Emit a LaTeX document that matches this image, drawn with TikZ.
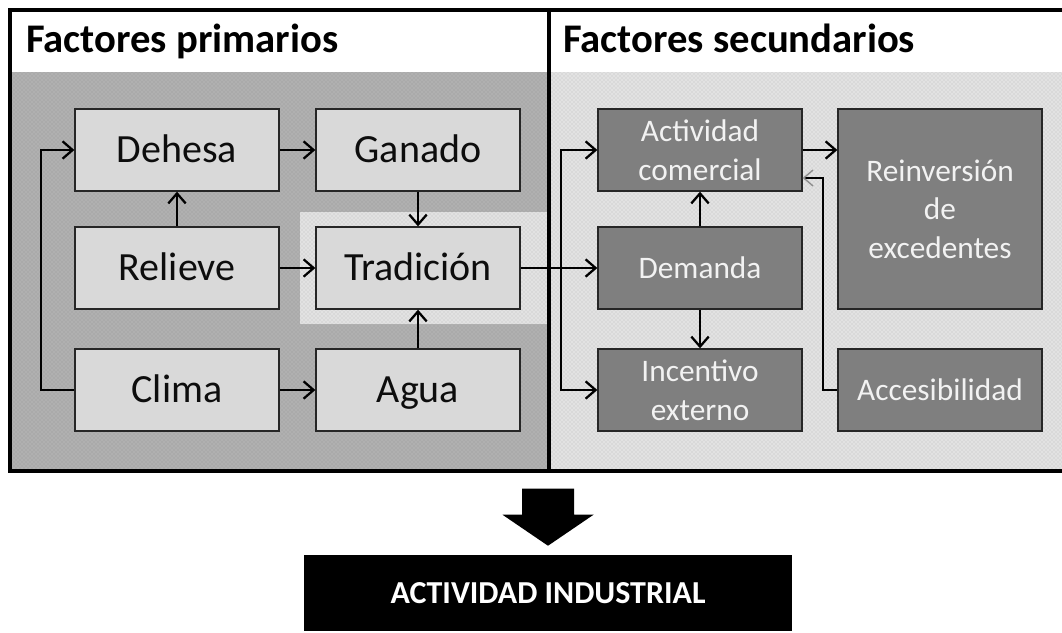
\documentclass[tikz,border=0pt]{standalone}
\usepackage{fontspec}
\setmainfont{Carlito}
\usetikzlibrary{arrows.meta,patterns,calc}

\definecolor{primfill}{HTML}{D9D9D9}
\definecolor{secfill}{HTML}{7F7F7F}
\definecolor{sectext}{HTML}{F2F2F2}
\definecolor{panelA}{HTML}{B0B0B0}
\definecolor{panelB}{HTML}{E2E2E2}

\begin{document}
\begin{tikzpicture}[x=0.75pt, y=-0.75pt,
  prim/.style={draw=black!85, line width=1pt, fill=primfill, minimum width=153pt,
    minimum height=61.5pt, inner sep=0pt, text=black!95, text height=18pt, text depth=0pt,
    font=\fontsize{30}{34}\selectfont},
  sec/.style={draw=black!85, line width=1pt, fill=secfill, minimum width=153pt,
    minimum height=61.5pt, inner sep=0pt, align=center, text=sectext,
    font=\fontsize{23.5}{29}\selectfont},
  arr/.style={line width=1.7pt, -{Straight Barb[length=7.5pt,width=13pt,line width=1.7pt]}},
  thinarr/.style={line width=1pt, -{Straight Barb[length=7pt,width=12pt,line width=1pt,color=black!45]}},
  titulo/.style={anchor=base west, inner sep=0pt, font=\bfseries\fontsize{30.5}{34}\selectfont}]
  \useasboundingbox (0,0) rectangle (1062,632);

  % fondos de los paneles
  \fill[panelA] (10,72) rectangle (549,471);
  \fill[pattern=crosshatch dots, pattern color=black!40] (10,72) rectangle (549,471);
  \fill[panelB] (549,72) rectangle (1070,471);
  \fill[pattern=crosshatch dots, pattern color=black!25] (549,72) rectangle (1070,471);
  \fill[panelB] (300,212) rectangle (547,324);
  \fill[pattern=crosshatch dots, pattern color=black!25] (300,212) rectangle (547,324);

  % marco
  \draw[line width=3.5pt] (10,10) rectangle (1070,471);
  \draw[line width=3.5pt] (549,10) -- (549,471);

  \node[titulo] (tprim) at (26,52) {Factores primarios};
  \node[titulo] (tsec) at (563,52) {Factores secundarios};

  % factores primarios
  \node[prim] (dehesa) at (177,150) {Dehesa};
  \node[prim] (ganado) at (418,150) {Ganado};
  \node[prim] (relieve) at (177,268) {Relieve};
  \node[prim] (tradicion) at (418,268) {Tradición};
  \node[prim] (clima) at (177,390) {Clima};
  \node[prim] (agua) at (418,390) {Agua};

  % factores secundarios
  \node[sec] (actividad) at (700,150) {Actividad\\comercial};
  \node[sec] (demanda) at (700,268) {Demanda};
  \node[sec] (incentivo) at (700,390) {Incentivo\\externo};
  \node[sec, minimum height=150pt] (reinversion) at (940,209) {Reinversión\\de\\excedentes};
  \node[sec] (accesibilidad) at (940,390) {Accesibilidad};

  \node[fill=black, minimum width=366pt, minimum height=57pt, inner sep=0pt, text=white,
    font=\bfseries\fontsize{24}{28}\selectfont] (industrial) at (548,593) {ACTIVIDAD INDUSTRIAL};

  \draw[arr] (clima.west) -- ++(-33,0) |- (dehesa.west);
  \draw[arr] (relieve.north) -- (dehesa.south);
  \draw[arr] (dehesa.east) -- (ganado.west);
  \draw[arr] (ganado.south) -- (tradicion.north);
  \draw[arr] (relieve.east) -- (tradicion.west);
  \draw[arr] (clima.east) -- (agua.west);
  \draw[arr] (agua.north) -- (tradicion.south);
  \draw[arr] (tradicion.east) -- (demanda.west);
  \coordinate (reparto) at (561,268);
  \draw[arr] (reparto) |- (actividad.west);
  \draw[arr] (reparto) |- (incentivo.west);
  \draw[arr] (demanda.north) -- (actividad.south);
  \draw[arr] (demanda.south) -- (incentivo.north);
  \draw[arr] (actividad.east) -- (actividad.east -| reinversion.west);
  \coordinate (giro) at (823,178);
  \draw[thinarr] (accesibilidad.west) -| (giro) -- (giro -| actividad.east);

  % flecha gruesa
  \fill ($(industrial.north)+(0,-9)$) -- ++(-45.5,-31) -- ++(19.5,0) -- ++(0,-26)
    -- ++(52,0) -- ++(0,26) -- ++(19.5,0) -- cycle;
\end{tikzpicture}
\end{document}
